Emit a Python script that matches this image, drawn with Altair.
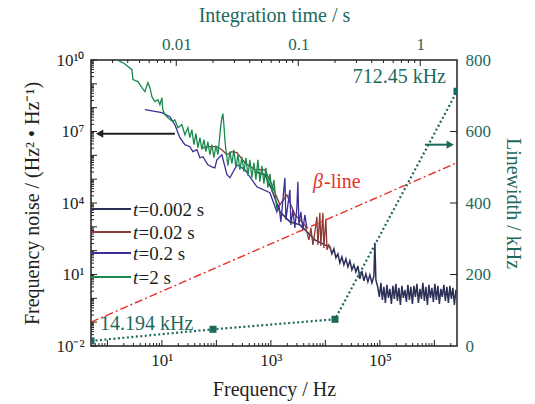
import altair as alt
import pandas as pd

# ---------------- data ----------------
# frequency-noise spectra (Hz, Hz^2/Hz)
f_t0002 = [508, 776, 1042, 1462, 2232, 3404, 4577, 6420, 9790,
           1.209e4, 1.316e4, 1.432e4, 1.558e4, 1.696e4, 1.846e4, 2.009e4, 2.185e4, 2.378e4, 2.588e4,
           2.816e4, 3.064e4, 3.334e4, 3.628e4, 3.948e4, 4.295e4, 4.674e4, 5.087e4, 5.535e4, 6.023e4,
           6.554e4, 7.132e4, 7.761e4, 8.096e4, 8.446e4,
           9.19e4, 9.79e4, 1.043e5, 1.111e5, 1.184e5, 1.262e5, 1.344e5, 1.432e5, 1.526e5, 1.626e5,
           1.732e5, 1.846e5, 1.966e5, 2.095e5, 2.232e5, 2.378e5, 2.534e5, 2.700e5, 2.876e5, 3.064e5,
           3.265e5, 3.479e5, 3.706e5, 3.949e5, 4.207e5, 4.483e5, 4.776e5, 5.089e5, 5.422e5, 5.776e5,
           6.154e5, 6.557e5, 6.986e5, 7.443e5, 7.930e5, 8.449e5, 9.002e5, 9.591e5, 1.021e6, 1.088e6,
           1.159e6, 1.235e6, 1.316e6, 1.402e6, 1.494e6, 1.592e6, 1.696e6, 1.807e6, 1.925e6, 2.051e6,
           2.185e6, 2.328e6, 2.481e6]
s_t0002 = [2.05e5, 1.53e5, 3.6e4, 4270, 1620, 1210, 617, 284, 175,
           144.5, 73.4, 119, 49.8, 73.4, 30.7, 54.9, 25.3, 45.2, 20.9,
           37.3, 15.6, 25.3, 12.9, 23.0, 6.53, 14.2, 5.38, 10.6, 4.89,
           9.62, 4.44, 8.73, 213, 5.93,
           2.74, 1.15, 4.44, 0.857, 3.01, 0.641, 3.66, 1.04, 2.48, 0.582,
           3.32, 0.944, 4.03, 0.778, 2.74, 0.528, 3.32, 1.04, 2.25, 0.706,
           3.66, 0.857, 3.01, 0.582, 3.32, 1.15, 4.03, 0.641, 2.48, 0.944,
           4.44, 0.778, 3.01, 0.528, 3.66, 1.04, 2.74, 0.706, 4.03, 0.857,
           3.32, 0.582, 2.48, 1.15, 3.66, 0.778, 3.01, 0.641, 3.32, 0.944,
           2.74, 0.528, 2.25]

f_t002 = [56.5, 76, 102, 126, 156, 192, 238, 333, 508, 776, 1042, 1462, 1966, 2754, 4204,
          4577, 4980, 5420, 5900, 6420, 6980, 7280, 7920, 8260, 8990, 9380, 1.02e4, 1.07e4,
          1.16e4, 1.26e4]
s_t002 = [2.08e6, 2.3e6, 2.3e6, 1.72e6, 1.06e6, 1.42e6, 1.29e6, 4.9e5, 2.5e5, 2.5e5, 5.8e4,
          8400, 2.2e4, 3200, 1210, 617, 284, 910, 175, 617, 2630, 175, 3870, 159, 3870, 131,
          2170, 108, 175, 108]

f_t02 = [4.88, 10.0, 14.0, 17.3, 21.4, 26.4, 32.6, 37.0, 43.9, 49.8,
         56.5, 69.8, 82.6, 93.8, 102, 126, 156, 177, 238, 333,
         553, 960, 1288, 1403, 1525, 1660, 1807, 1884, 2050, 2232,
         2328, 2533, 2754, 2999, 3126, 3264, 3548, 3864, 4204, 4577]
s_t02 = [8.2e7, 6.2e7, 4.2e7, 1.93e7, 5.5e6, 2.8e6, 2.3e6, 1.42e6, 1.72e6, 7.9e5,
         8.7e5, 4.0e5, 3.3e5, 3.0e5, 6.5e5, 1.06e6, 1.53e5, 1.15e5, 4.0e5, 2.5e5,
         4.8e4, 2.7e4, 4270, 8400, 1620, 13600, 1.15e5, 1970, 8400, 3.6e4,
         1210, 5200, 910, 6300, 7.8e4, 1210, 4270, 750, 3200, 910]

f_t2 = [1.49, 1.92, 2.82, 2.94, 3.63, 4.30, 4.88, 5.53, 6.03, 6.56,
        7.45, 8.45, 9.19, 10.0, 10.4, 11.4, 12.9, 15.9, 17.3, 19.7,
        23.3, 26.4,
        30.0, 32.6, 35.5, 38.7, 42.1, 45.8, 49.8, 54.2, 59.0, 64.2,
        69.8, 76.0, 82.7, 90.0, 97.9, 106.5, 115.9, 120.9, 126.2, 131.6,
        137.3, 143.2, 149.4, 162.6, 176.9, 192.5, 209.5, 228.0, 248.0, 270.0,
        293.8, 319.6, 347.8, 378.4, 411.8, 448.1, 487.6, 530.6, 577.4, 628.3,
        683.7, 743.9, 809.5, 881.0, 958.7, 1043, 1135, 1235, 1289]
s_t2 = [1.0e10, 7.8e9, 3.95e9, 1.5e9, 1.24e9, 6.9e8, 4.7e8, 1.12e9, 6.9e8, 2.9e8,
        1.79e8, 2.17e8, 1.34e8, 2.6e8, 8.2e7, 5.1e7, 3.8e7, 2.6e7, 3.1e7, 1.45e7,
        1.93e7, 7.3e6,
        1.45e7, 5.49e6, 1.19e7, 2.79e6, 8.09e6, 2.08e6, 5.49e6, 1.72e6, 4.52e6, 1.42e6,
        3.72e6, 1.06e6, 2.79e6, 7.93e5, 2.53e6, 1.06e6, 7.34e6, 1.93e7, 3.80e7, 5.60e7,
        1.93e7, 4.52e6, 1.72e6, 3.66e5, 1.42e6, 4.44e5, 1.72e6, 3.01e5, 1.06e6, 2.48e5,
        8.73e5, 2.05e5, 7.93e5, 1.39e5, 6.53e5, 1.15e5, 4.89e5, 9.44e4, 6.53e5, 7.78e4,
        3.66e5, 6.41e4, 3.01e5, 4.36e4, 1.69e5, 2.96e4, 9.44e4, 1.36e4, 5.18e3]

# beta-separation line endpoints
beta_f = [0.5, 2.6e6]
beta_s = [0.10, 4.9e5]

# linewidth vs integration time
t_int = [0.002, 0.02, 0.2, 2]
lw_khz = [14.194, 46.7, 74.7, 712.45]

# arrows (axis indicators)
arrow_left_f = [0.75, 17.3]
arrow_left_s = 8.1e6
arrow_right_f = [6.7e5, 1.8e6]
arrow_right_s = 2.8e6

legend_labels = ["=0.002 s", "=0.02 s", "=0.2 s", "=2 s"]

# tick positions
freq_major = [10.0 ** k for k in range(0, 7)]
freq_minor = [m * 10.0 ** k for k in range(-1, 7) for m in range(2, 10) if 0.5 < m * 10.0 ** k < 2.6e6]
noise_major = [10.0 ** k for k in range(-2, 11)]
noise_minor = [m * 10.0 ** k for k in range(-2, 10) for m in range(2, 10)]
t_major = [0.01, 0.1, 1.0]
t_minor = [m * 10.0 ** k for k in range(-3, 1) for m in range(2, 10) if 0.002 < m * 10.0 ** k < 2]
lw_major = [200, 400, 600]

# ---------------- style ----------------
W, H = 366, 286
serif = "Liberation Serif"
dark = "#231f20"
teal = "#1d6a5d"
c_navy = "#2c3057"
c_brown = "#8e3b35"
c_purple = "#3a2f98"
c_green = "#1b8a4f"
c_red = "#e6302c"

freq_scale = alt.Scale(type="log", domain=[0.5, 2.6e6], nice=False)
noise_scale = alt.Scale(type="log", domain=[1e-2, 1e10], nice=False)
t_scale = alt.Scale(type="log", domain=[0.002, 2], nice=False)
lw_scale = alt.Scale(type="linear", domain=[0, 800], nice=False, zero=False)

common = dict(labelFont=serif, titleFont=serif, labelFontSize=17, titleFontSize=20,
              titleFontWeight="normal", ticks=False, domain=False, grid=False)
x_axis = alt.Axis(
    values=[10, 1000, 100000],
    labelExpr="datum.value < 100 ? '10¹' : datum.value < 10000 ? '10³' : '10⁵'",
    title="Frequency / Hz", labelColor=dark, titleColor=dark,
    labelPadding=6, titlePadding=11, **common)
y_axis = alt.Axis(
    values=[1e-2, 10, 1e4, 1e7, 1e10],
    labelExpr="datum.value < 0.1 ? '10⁻²' : datum.value < 100 ? '10¹' : datum.value < 1e5 ? '10⁴' : datum.value < 1e8 ? '10⁷' : '10¹⁰'",
    title="Frequency noise / (Hz² • Hz⁻¹)", labelColor=dark, titleColor=dark,
    labelPadding=7, titlePadding=13, **common)
t_axis = alt.Axis(
    orient="top", values=[0.01, 0.1, 1],
    labelExpr="datum.value < 0.05 ? '0.01' : datum.value < 0.5 ? '0.1' : '1'",
    title="Integration time / s", labelColor=teal, titleColor=teal,
    labelPadding=7, titlePadding=10, **common)
lw_axis = alt.Axis(
    orient="right", values=[0, 200, 400, 600, 800],
    title="Linewidth / kHz", labelColor=teal, titleColor=teal,
    labelPadding=8, titlePadding=12, **common)

FX = dict(scale=freq_scale, axis=x_axis)
FY = dict(scale=noise_scale, axis=y_axis)
TX = dict(scale=t_scale, axis=t_axis)
LY = dict(scale=lw_scale, axis=lw_axis)


def curve(f, s, color, width=1.3):
    df = pd.DataFrame({"f": f, "s": s})
    return alt.Chart(df).mark_line(color=color, strokeWidth=width, clip=True).encode(
        x=alt.X("f:Q", **FX), y=alt.Y("s:Q", **FY))


def xticks(vals, enc, length, top=False):
    df = pd.DataFrame({"v": vals})
    y0 = 0 if top else H
    y1 = length if top else H - length
    return alt.Chart(df).mark_rule(color=dark, strokeWidth=1).encode(
        x=alt.X("v:Q", **enc), y=alt.value(y0), y2=alt.value(y1))


def yticks(vals, enc, length, right=False):
    df = pd.DataFrame({"v": vals})
    x0 = W if right else 0
    x1 = W - length if right else length
    return alt.Chart(df).mark_rule(color=dark, strokeWidth=1).encode(
        y=alt.Y("v:Q", **enc), x=alt.value(x0), x2=alt.value(x1))


one = pd.DataFrame({"k": [0]})


def label(text, x, y, color, size=20, align="left", italic=False, baseline="alphabetic"):
    return alt.Chart(one).mark_text(
        text=text, font=serif, fontSize=size, align=align, baseline=baseline, color=color,
        fontStyle="italic" if italic else "normal",
    ).encode(x=alt.value(x), y=alt.value(y))


beta = alt.Chart(pd.DataFrame({"f": beta_f, "s": beta_s})).mark_line(
    color=c_red, strokeWidth=1.4, strokeDash=[8, 3, 2, 3], clip=True
).encode(x=alt.X("f:Q", **FX), y=alt.Y("s:Q", **FY))


def arrow(fs, s, color, head_f, shape):
    df = pd.DataFrame({"f1": [fs[0]], "f2": [fs[1]], "s": [s]})
    line = alt.Chart(df).mark_rule(color=color, strokeWidth=2).encode(
        x=alt.X("f1:Q", **FX), x2="f2:Q", y=alt.Y("s:Q", **FY))
    hd = pd.DataFrame({"f": [head_f], "s": [s]})
    head = alt.Chart(hd).mark_point(shape=shape, filled=True, size=70, color=color, opacity=1).encode(
        x=alt.X("f:Q", **FX), y=alt.Y("s:Q", **FY))
    return [line, head]


leg_colors = [c_navy, c_brown, c_purple, c_green]
leg_y = [149, 172, 193, 217]
legend_layers = []
for lab, col, yy in zip(legend_labels, leg_colors, leg_y):
    legend_layers.append(
        alt.Chart(one).mark_rule(color=col, strokeWidth=2).encode(
            x=alt.value(0), x2=alt.value(40), y=alt.value(yy)))
    legend_layers.append(label("t", 42, yy + 1, dark, size=19, italic=True, baseline="middle"))
    legend_layers.append(label(lab, 47.5, yy + 1, dark, size=19, baseline="middle"))

texts = [
    label("β", 222, 128, c_red, italic=True),
    label("-line", 233, 128, c_red),
    label("712.45 kHz", 355, 23, teal, align="right"),
    label("14.194 kHz", 9, 270, teal),
]

main = alt.layer(
    curve(f_t0002, s_t0002, c_navy, 1.5),
    curve(f_t002, s_t002, c_brown),
    curve(f_t02, s_t02, c_purple),
    curve(f_t2, s_t2, c_green),
    beta,
    xticks(freq_major, FX, 6), xticks(freq_minor, FX, 3),
    yticks(noise_major, FY, 6), yticks(noise_minor, FY, 3),
    *arrow(arrow_left_f, arrow_left_s, dark, 0.72, "triangle-left"),
    *arrow(arrow_right_f, arrow_right_s, teal, 1.95e6, "triangle-right"),
    *legend_layers, *texts,
)

lw_df = pd.DataFrame({"t": t_int, "lw": lw_khz})
lw_line = alt.Chart(lw_df).mark_line(color=teal, strokeWidth=2.2, strokeDash=[2, 2.5]).encode(
    x=alt.X("t:Q", **TX), y=alt.Y("lw:Q", **LY))
lw_pts = alt.Chart(lw_df).mark_point(shape="square", filled=True, size=50, color=teal, opacity=1, clip=True).encode(
    x=alt.X("t:Q", **TX), y=alt.Y("lw:Q", **LY))

sec = alt.layer(
    lw_line, lw_pts,
    xticks(t_major, TX, 6, top=True), xticks(t_minor, TX, 3, top=True),
    yticks(lw_major, LY, 7, right=True),
)

chart = alt.layer(main, sec).resolve_scale(x="independent", y="independent").properties(
    width=W, height=H,
    padding={"left": 91, "top": 60, "right": 78, "bottom": 58},
    autosize=alt.AutoSizeParams(type="none"),
).configure_view(stroke=dark, strokeWidth=1.5).configure_axis(grid=False)

chart.save("out.html", embed_options={"renderer": "svg", "actions": False})
